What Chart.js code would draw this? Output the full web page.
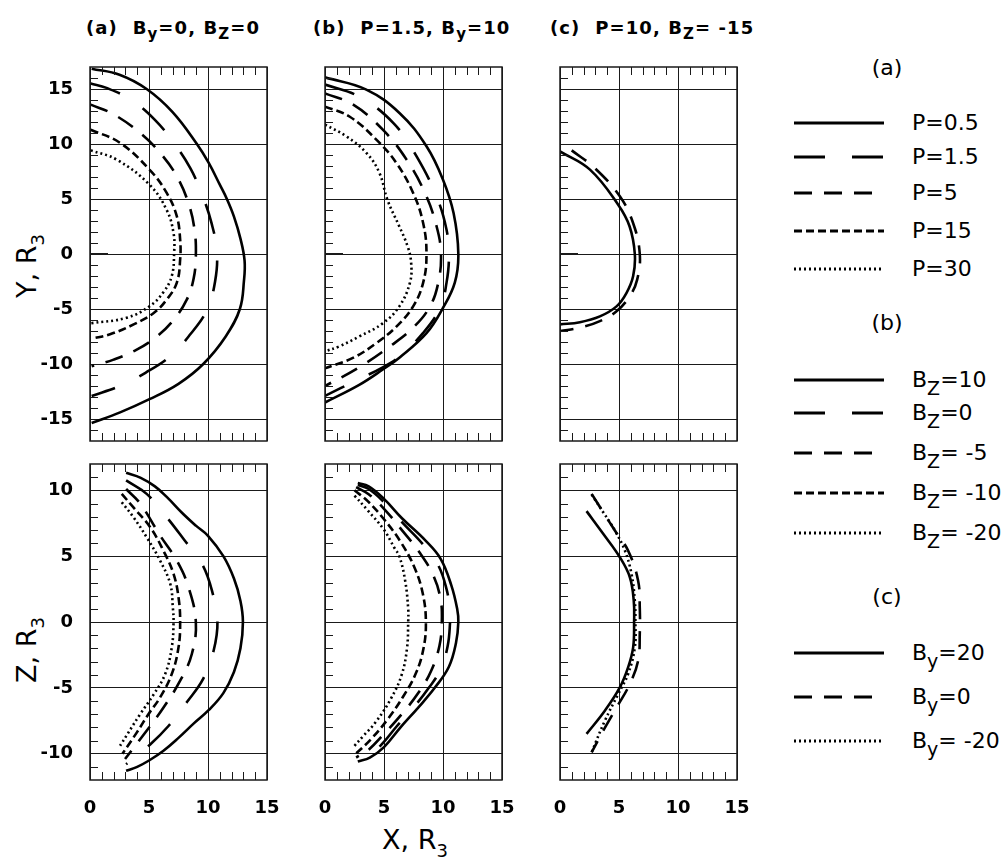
<!DOCTYPE html>
<html>
<head>
<meta charset="utf-8">
<script src="https://cdn.jsdelivr.net/npm/chart.js@4.4.0/dist/chart.umd.min.js"></script>
<style>
html,body{margin:0;padding:0;background:#fff;}
#wrap{position:relative;width:1001px;height:859px;overflow:hidden;font-family:"DejaVu Sans",sans-serif;color:#000;background:#fff;}
canvas{position:absolute;}
.ttl{position:absolute;font-weight:bold;font-size:18px;line-height:18px;white-space:nowrap;letter-spacing:1.1px;}
.ttl sub{font-size:15px;vertical-align:-5px;line-height:0;}
.axt{position:absolute;font-size:27px;line-height:27px;white-space:nowrap;}
.axt sub{font-size:18px;vertical-align:-8px;line-height:0;}
.rot{transform:translate(-50%,-50%) rotate(-90deg);}
.lg{position:absolute;font-size:22px;line-height:22px;white-space:nowrap;}
.lg sub{font-size:19px;vertical-align:-8px;line-height:0;}
.hd{position:absolute;font-size:22px;line-height:22px;width:60px;text-align:center;}
</style>
</head>
<body>
<div id="wrap">
  <div class="ttl" style="left:86px;top:19px">(a)&nbsp; B<sub>y</sub>=0, B<sub>Z</sub>=0</div>
  <div class="ttl" style="left:313px;top:19px">(b)&nbsp; P=1.5, B<sub>y</sub>=10</div>
  <div class="ttl" style="left:550px;top:19px">(c)&nbsp; P=10, B<sub>Z</sub>= -15</div>
  <div class="axt rot" style="left:26px;top:266px">Y, R<sub>3</sub></div>
  <div class="axt rot" style="left:26px;top:650px">Z, R<sub>3</sub></div>
  <div class="axt" style="left:382px;top:826px">X, R<sub>3</sub></div>
  <svg id="lgsvg" width="1001" height="859" style="position:absolute;left:0;top:0"></svg>
</div>
<script>
// ---- line styles ----
const SOLID = [];
const LONG = [31, 27];
const MED = [18, 12];
const SHORT = [8, 4];
const DOT = [2, 3];

// ---- (a) By=0, Bz=0 : equatorial (X,Y) cuts ----
const aXY_P0p5 = [[0.14,16.85],[2.5,16.3],[4.8,15.0],[7.0,12.9],[9.06,10.0],[10.05,8.3],[11.0,6.3],[11.6,5.0],[12.2,3.4],[12.75,1.4],[13.1,-0.6],[13.05,-2.4],[12.7,-5.0],[11.5,-7.5],[9.6,-10.0],[7.5,-11.8],[5.04,-13.2],[2.55,-14.4],[0.14,-15.36]];
const aXY_P1p5 = [[0.06,15.5],[1.4,15.1],[3.5,14.0],[5.5,12.2],[7.1,10.1],[8.5,7.8],[9.5,5.4],[10.3,2.8],[10.75,0.24],[10.6,-2.5],[9.9,-5.1],[8.5,-7.3],[6.8,-9.3],[4.7,-10.8],[2.55,-12.0],[0.14,-12.9]];
const aXY_P5 = [[0.06,13.58],[2.0,12.7],[4.25,11.0],[5.94,9.2],[7.36,7.06],[8.35,4.6],[8.86,2.2],[8.97,-0.2],[8.77,-2.3],[8.2,-4.15],[7.08,-6.0],[5.66,-7.5],[3.96,-8.7],[2.0,-9.6],[0.14,-10.2]];
const aXY_P15 = [[0.06,11.3],[2.55,10.1],[5.04,7.67],[6.5,5.55],[7.36,3.42],[7.64,1.3],[7.64,-0.5],[7.36,-2.6],[6.5,-4.15],[5.4,-5.36],[3.7,-6.4],[1.7,-7.3],[0.14,-7.7]];
const aXY_P30 = [[0.06,9.42],[2.26,8.58],[5.04,6.3],[6.5,4.0],[7.08,1.9],[7.13,0.1],[6.93,-2.0],[6.2,-3.5],[5.04,-4.76],[3.1,-5.8],[0.06,-6.3]];

// ---- (a) noon-midnight (X,Z) cuts ----
const aXZ_P0p5 = [[3.06,11.33],[4.3,10.95],[5.5,10.3],[6.5,9.5],[7.9,8.2],[9.0,7.3],[10.0,6.55],[11.3,5.0],[12.2,3.3],[12.75,1.6],[12.96,0],[12.75,-2.0],[12.2,-3.8],[11.3,-5.4],[10.05,-6.7],[8.8,-7.7],[7.5,-8.8],[6.2,-9.8],[5.04,-10.5],[4.0,-11.0],[3.06,-11.3]];
const aXZ_P1p5 = [[3.06,10.75],[4.8,9.73],[6.5,7.96],[7.93,6.3],[9.5,4.4],[10.33,2.4],[10.8,0],[10.47,-2.2],[9.6,-4.3],[8.2,-6.1],[6.65,-7.9],[5.1,-9.3],[3.06,-10.8]];
const aXZ_P5 = [[3.06,10.1],[4.25,9.0],[5.94,6.57],[7.36,4.66],[8.35,2.64],[8.97,0],[8.63,-2.43],[7.64,-4.46],[6.23,-6.5],[4.8,-8.26],[2.97,-10.4]];
const aXZ_P15 = [[2.69,9.73],[3.68,8.7],[5.1,7.2],[6.23,5.4],[7.08,3.65],[7.5,1.88],[7.64,0],[7.5,-1.93],[6.93,-3.95],[5.94,-5.73],[4.95,-7.0],[3.96,-8.4],[2.75,-10.0]];
const aXZ_P30 = [[2.69,9.1],[3.68,7.96],[4.8,6.44],[5.94,4.66],[6.8,2.9],[7.02,1.1],[7.08,0],[6.93,-1.93],[6.37,-3.95],[5.4,-5.5],[4.25,-7.0],[2.55,-9.4]];

// ---- (b) P=1.5, By=10 ----
const bXY_Bz10 = [[0,16.06],[3.5,14.94],[6.33,12.8],[8.6,9.8],[10.0,6.76],[10.9,3.7],[11.3,0],[11.0,-2.6],[10.0,-4.9],[8.6,-7.2],[6.33,-9.4],[4.9,-10.5],[2.9,-11.9],[0,-13.5]];
const bXY_Bz0 = [[0,15.4],[2.9,14.3],[5.8,11.9],[7.75,8.9],[9.46,5.2],[10.3,2.2],[10.5,-0.2],[10.3,-2.6],[9.75,-4.9],[8.3,-7.2],[6.33,-9.3],[4.9,-10.3],[2.64,-11.5],[0,-12.9]];
const bXY_BzM5 = [[0,14.6],[2.36,13.6],[4.9,11.3],[6.9,8.6],[8.47,5.55],[9.46,2.5],[9.83,0],[9.6,-2.6],[8.9,-4.76],[7.47,-6.7],[5.5,-8.4],[2.9,-10.3],[0,-12.0]];
const bXY_BzM10 = [[0,13.4],[2.07,12.5],[4.35,10.4],[6.05,8.27],[7.47,5.55],[8.32,2.8],[8.6,0],[8.32,-2.6],[7.47,-4.76],[6.05,-6.6],[4.35,-8.1],[2.36,-9.45],[0,-10.4]];
const bXY_BzM20 = [[0,11.76],[1.8,10.7],[3.5,9.2],[4.6,7.4],[5.3,4.9],[6.3,2.5],[7.0,0.7],[7.3,-0.8],[7.2,-2.6],[6.3,-4.76],[4.9,-6.3],[2.9,-7.5],[1.2,-8.4],[0,-8.85]];

const bXZ_Bz10 = [[2.78,10.55],[3.7,10.3],[5.0,9.35],[6.5,7.9],[8.5,6.2],[9.8,4.8],[10.7,2.8],[11.2,1.0],[11.3,0],[11.1,-1.6],[10.5,-3.4],[9.3,-5.0],[7.9,-6.5],[6.4,-8.0],[5.0,-9.5],[3.8,-10.3],[2.78,-10.6]];
const bXZ_Bz0 = [[2.78,10.4],[3.7,10.1],[5.0,9.1],[6.5,7.6],[8.3,5.9],[9.6,4.3],[10.3,2.5],[10.6,0.8],[10.6,0],[10.4,-1.8],[9.8,-3.6],[8.8,-5.0],[7.5,-6.5],[6.1,-7.9],[4.8,-9.3],[3.6,-10.2],[2.78,-10.5]];
const bXZ_BzM5 = [[2.64,10.24],[3.7,9.7],[5.0,8.6],[6.5,7.0],[8.0,5.3],[9.2,3.5],[9.8,1.7],[9.9,0],[9.7,-1.8],[9.0,-3.7],[7.9,-5.4],[6.5,-7.0],[5.0,-8.5],[3.7,-9.7],[2.64,-10.3]];
const bXZ_BzM10 = [[2.5,10.0],[3.6,9.2],[5.0,7.8],[6.4,6.1],[7.6,4.1],[8.3,2.1],[8.55,0],[8.35,-2.0],[7.7,-3.9],[6.6,-5.7],[5.3,-7.4],[3.9,-8.9],[2.5,-10.1]];
const bXZ_BzM20 = [[2.5,9.6],[3.6,8.5],[5.0,7.0],[5.9,5.6],[6.3,5.0],[6.8,3.1],[7.05,1.0],[7.05,0],[6.95,-2.0],[6.5,-4.0],[5.6,-5.8],[4.3,-7.6],[3.2,-8.7],[2.5,-9.4]];

// ---- (c) P=10, Bz=-15 ----
const cXY_By20 = [[0,9.33],[2.54,7.67],[4.93,4.48],[5.9,2.5],[6.34,0],[6.2,-2.0],[5.63,-3.55],[4.79,-4.76],[3.38,-5.67],[1.69,-6.2],[0,-6.4]];
const cXY_By0 = [[0.99,9.42],[2.96,7.8],[5.07,5.24],[6.2,2.8],[6.76,0],[6.54,-2.33],[5.9,-3.85],[4.79,-5.2],[3.38,-6.1],[1.69,-6.7],[0,-7.0]];

const cXZ_By20 = [[2.25,8.42],[3.66,6.7],[5.07,4.92],[5.92,3.4],[6.25,1.62],[6.28,0],[6.2,-1.93],[5.77,-3.45],[5.07,-4.97],[3.8,-6.74],[2.25,-8.5]];
const cXZ_By0 = [[2.68,9.73],[3.66,8.34],[4.65,6.95],[5.77,5.42],[6.62,3.14],[6.76,1.1],[6.76,-0.9],[6.62,-2.94],[5.92,-4.7],[4.79,-6.5],[3.66,-8.26],[2.68,-9.9]];
const cXZ_ByM20 = [[2.68,9.68],[3.66,8.34],[4.65,6.95],[5.5,5.42],[6.06,3.65],[6.34,1.62],[6.39,0],[6.34,-1.93],[5.77,-3.95],[4.93,-5.47],[3.8,-7.5],[2.68,-9.9]];

// ---- axis ranges ----
const xRange = [0, 15];
const yRangeTop = [-17, 17];
const zRangeBottom = [-12, 12];
const majorStep = 5;

// ---- legend ----
const legendA = ['P=0.5', 'P=1.5', 'P=5', 'P=15', 'P=30'];
const legendADash = [SOLID, LONG, MED, SHORT, DOT];
const legendB = ['B<sub>Z</sub>=10', 'B<sub>Z</sub>=0', 'B<sub>Z</sub>= -5', 'B<sub>Z</sub>= -10', 'B<sub>Z</sub>= -20'];
const legendBDash = [SOLID, LONG, MED, SHORT, DOT];
const legendC = ['B<sub>y</sub>=20', 'B<sub>y</sub>=0', 'B<sub>y</sub>= -20'];
const legendCDash = [SOLID, MED, DOT];

Chart.defaults.font.family = "'DejaVu Sans', sans-serif";

// frame box, inward minor ticks and the longer tick at zero
const frameTicks = {
  id: 'frameTicks',
  afterDatasetsDraw(chart, args, opts) {
    const { ctx, chartArea: a, scales: { x, y } } = chart;
    ctx.save();
    ctx.strokeStyle = '#1a1a1a';
    ctx.lineWidth = 1;
    ctx.beginPath();
    for (let v = Math.ceil(x.min); v < x.max; v++) {
      if (v <= x.min || v % majorStep === 0) continue;
      const px = Math.round(x.getPixelForValue(v)) + 0.5;
      ctx.moveTo(px, a.top); ctx.lineTo(px, a.top + 8);
      ctx.moveTo(px, a.bottom); ctx.lineTo(px, a.bottom - 8);
    }
    for (let v = Math.ceil(y.min); v < y.max; v++) {
      if (v <= y.min || v % majorStep === 0) continue;
      const py = Math.round(y.getPixelForValue(v)) + 0.5;
      ctx.moveTo(a.left, py); ctx.lineTo(a.left + 8, py);
    }
    ctx.stroke();
    if (opts.zeroTick) {
      ctx.lineWidth = 2;
      ctx.beginPath();
      const p0 = Math.round(y.getPixelForValue(0));
      ctx.moveTo(a.left, p0); ctx.lineTo(a.left + opts.zeroTick, p0);
      ctx.stroke();
    }
    ctx.lineWidth = 1.5;
    ctx.strokeRect(Math.round(a.left), Math.round(a.top), Math.round(a.right - a.left), Math.round(a.bottom - a.top));
    ctx.restore();
  }
};

// every panel gets the same box layout; the paddings are wide enough
// that tick-label overhangs never push the plot area around
const PAD_L_NOY = 30, PAD_R = 40, PAD_T = 30, PAD_B_TOP = 30, PAD_B_BOTTOM = 10;
const Y_AXIS_W = 90, X_AXIS_H = 40, PLOT_W = 177, PLOT_H_TOP = 374, PLOT_H_BOTTOM = 316;

function makePanel(plotLeft, plotTop, row, showY, sets) {
  const isTop = row === 0;
  const cv = document.createElement('canvas');
  const padL = showY ? 0 : PAD_L_NOY;
  const leftBox = showY ? Y_AXIS_W : 0;
  const w = padL + leftBox + PLOT_W + PAD_R;
  const h = isTop ? PAD_T + PLOT_H_TOP + PAD_B_TOP : PAD_T + PLOT_H_BOTTOM + X_AXIS_H + PAD_B_BOTTOM;
  cv.width = w; cv.height = h;
  cv.style.left = (plotLeft - padL - leftBox) + 'px';
  cv.style.top = (plotTop - PAD_T) + 'px';
  document.getElementById('wrap').appendChild(cv);
  const yr = isTop ? yRangeTop : zRangeBottom;
  const tickFont = { size: 18, weight: 'bold' };
  new Chart(cv, {
    type: 'scatter',
    data: {
      datasets: sets.map(([pts, dash]) => ({
        data: pts.map(([px, py]) => ({ x: px, y: py })),
        showLine: true,
        borderColor: '#000',
        backgroundColor: '#000',
        borderWidth: 2.6,
        borderDash: dash,
        borderCapStyle: 'butt',
        pointRadius: 0,
        pointHoverRadius: 0,
        tension: 0.4,
        fill: false
      }))
    },
    options: {
      responsive: false,
      animation: false,
      events: [],
      layout: { padding: { left: padL, right: PAD_R, top: PAD_T, bottom: isTop ? PAD_B_TOP : PAD_B_BOTTOM } },
      plugins: { legend: { display: false }, tooltip: { enabled: false }, frameTicks: { zeroTick: isTop ? 18 : 0 } },
      scales: {
        x: {
          type: 'linear', min: xRange[0], max: xRange[1],
          ticks: { stepSize: majorStep, display: !isTop, padding: 18, color: '#000', font: tickFont, maxRotation: 0 },
          grid: { color: '#1a1a1a', lineWidth: 1, drawTicks: false },
          border: { display: false },
          afterFit(s) { s.height = isTop ? 0 : X_AXIS_H; }
        },
        y: {
          type: 'linear', min: yr[0], max: yr[1],
          ticks: { stepSize: majorStep, includeBounds: false, display: showY, padding: 17, color: '#000', font: tickFont },
          grid: { color: '#1a1a1a', lineWidth: 1, drawTicks: false },
          border: { display: false },
          afterFit(s) { s.width = leftBox; }
        }
      }
    },
    plugins: [frameTicks]
  });
}

makePanel(90, 67, 0, true, [[aXY_P0p5, SOLID], [aXY_P1p5, LONG], [aXY_P5, MED], [aXY_P15, SHORT], [aXY_P30, DOT]]);
makePanel(325, 67, 0, false, [[bXY_Bz10, SOLID], [bXY_Bz0, LONG], [bXY_BzM5, MED], [bXY_BzM10, SHORT], [bXY_BzM20, DOT]]);
makePanel(560, 67, 0, false, [[cXY_By20, SOLID], [cXY_By0, MED]]);
makePanel(90, 464, 1, true, [[aXZ_P0p5, SOLID], [aXZ_P1p5, LONG], [aXZ_P5, MED], [aXZ_P15, SHORT], [aXZ_P30, DOT]]);
makePanel(325, 464, 1, false, [[bXZ_Bz10, SOLID], [bXZ_Bz0, LONG], [bXZ_BzM5, MED], [bXZ_BzM10, SHORT], [bXZ_BzM20, DOT]]);
makePanel(560, 464, 1, false, [[cXZ_By20, SOLID], [cXZ_By0, MED], [cXZ_ByM20, DOT]]);

// ---- legend block on the right ----
function legendGroup(header, headerY, labels, dashes, rowsY) {
  const wrap = document.getElementById('wrap');
  const svg = document.getElementById('lgsvg');
  const hd = document.createElement('div');
  hd.className = 'hd';
  hd.style.left = '857px'; hd.style.top = (headerY - 11) + 'px';
  hd.textContent = header;
  wrap.appendChild(hd);
  labels.forEach((lab, i) => {
    const yy = rowsY[i];
    const ln = document.createElementNS('http://www.w3.org/2000/svg', 'line');
    ln.setAttribute('x1', 794); ln.setAttribute('x2', 884);
    ln.setAttribute('y1', yy); ln.setAttribute('y2', yy);
    ln.setAttribute('stroke', '#000'); ln.setAttribute('stroke-width', 3);
    if (dashes[i].length) ln.setAttribute('stroke-dasharray', dashes[i].join(' '));
    svg.appendChild(ln);
    const t = document.createElement('div');
    t.className = 'lg';
    t.style.left = '912px'; t.style.top = (yy - 11) + 'px';
    t.innerHTML = lab;
    wrap.appendChild(t);
  });
}
legendGroup('(a)', 68, legendA, legendADash, [123, 157, 193, 231, 269]);
legendGroup('(b)', 323, legendB, legendBDash, [380, 413, 453, 493, 533]);
legendGroup('(c)', 597, legendC, legendCDash, [653, 697, 741]);
</script>
</body>
</html>
